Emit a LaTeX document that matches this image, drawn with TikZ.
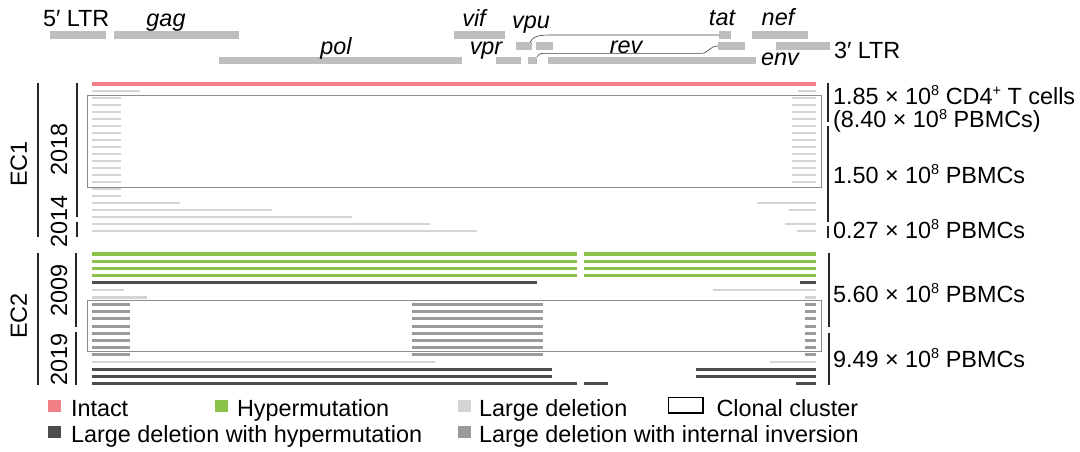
\documentclass[tikz,border=0pt]{standalone}
\usepackage{fontspec}
\setmainfont{Liberation Sans}
\definecolor{cIntact}{HTML}{F08085}
\definecolor{cHyper}{HTML}{8BC34A}
\definecolor{cLight}{HTML}{D4D4D4}
\definecolor{cMed}{HTML}{9A9A9A}
\definecolor{cDark}{HTML}{4D4D4D}
\definecolor{cGene}{HTML}{BEBEBE}
\definecolor{cBox}{HTML}{8C8C8C}
\newcommand\mysup[1]{\raisebox{8.5pt}{\fontsize{14.5}{14.5}\selectfont #1}}
\begin{document}
\begin{tikzpicture}[x=1pt,y=-1pt,
  lab/.style={font=\fontsize{23.4}{28}\selectfont, inner sep=0pt, outer sep=0pt},
  glab/.style={font=\fontsize{23.4}{28}\selectfont\itshape, inner sep=0pt, outer sep=0pt, anchor=base},
  gene/.style={rectangle, fill=cGene, draw=none, inner sep=0pt, outer sep=0pt, minimum height=7.5pt, anchor=west},
  conn/.style={draw=black!75, line width=0.6pt},
  barI/.style={draw=cIntact, line width=3.4pt},
  barH/.style={draw=cHyper, line width=3.4pt},
  barL/.style={draw=cLight, line width=2.6pt},
  barD/.style={draw=cDark, line width=3.0pt},
  barM/.style={draw=cMed, line width=3.0pt},
  clonal/.style={draw=cBox, line width=1pt},
  bracket/.style={draw=black!85, line width=1.5pt}]
\useasboundingbox (0,0) rectangle (1080,451);

% ---------- genome map ----------
\newcommand\genebar[4]{\node[gene, minimum width={(#3-#2)*1pt}] (#1) at (#2,#4) {};}
\genebar{ltrA}{50}{106}{35}
\genebar{gag}{113.5}{239}{35}
\genebar{vif}{454}{505}{35}
\genebar{tatB}{719}{731}{35}
\genebar{nef}{752}{808}{35}
\genebar{tatA}{516}{532}{46}
\genebar{vpu}{536}{553}{46}
\genebar{revB}{718}{745}{46}
\genebar{ltrB}{776}{830}{46}
\genebar{pol}{219}{462}{60.5}
\genebar{vpr}{496}{521}{60.5}
\genebar{revA}{528}{537}{60.5}
\genebar{env}{548}{756}{60.5}

\coordinate (tatbend) at (550,35);
\coordinate (revbend1) at (546,53.3);
\coordinate (revbend2) at (701,53.3);
\draw[conn] ([xshift=-2pt]tatA.north east) .. controls (533,36.5) and (538,35) .. (tatbend) -- (tatB.west);
\draw[conn] (revA.north east) .. controls (538,54) and (540,53.3) .. (revbend1) -- (revbend2) .. controls (709,53.3) and (709,46) .. (revB.west);

\node[lab, anchor=base west] (tLtrA) at (43,26.5) {5′ LTR};
\node[glab] (tGag) at (166,26.5) {gag};
\node[glab] (tVif) at (474,26.5) {vif};
\node[glab] (tVpu) at (531,28) {vpu};
\node[glab] (tTat) at (722,25.5) {tat};
\node[glab] (tNef) at (778,25.5) {nef};
\node[glab] (tPol) at (336,54) {pol};
\node[glab] (tVpr) at (486,54) {vpr};
\node[glab] (tRev) at (626,53) {rev};
\node[glab] (tEnv) at (780,65) {env};
\node[lab, anchor=base west] (tLtrB) at (834,58) {3′ LTR};

% ---------- EC1 ----------
\draw[barI] (92,84) -- (815.5,84);
\draw[barL] (92,91) -- (140,91);
\draw[barL] (798,91) -- (815.5,91);
\foreach \k in {2,...,14} {
  \pgfmathsetmacro\yy{84+7*\k}
  \draw[barL] (92,\yy) -- (121,\yy);
  \draw[barL] (792,\yy) -- (815.5,\yy);
}
\draw[barL] (92,189) -- (121,189);
\draw[barL] (92,196) -- (121,196);
\draw[barL] (92,203) -- (180,203);
\draw[barL] (757,203) -- (815.5,203);
\draw[barL] (92,210) -- (272,210);
\draw[barL] (789,210) -- (815.5,210);
\draw[barL] (92,217) -- (352,217);
\draw[barL] (92,224) -- (430,224);
\draw[barL] (785,224) -- (815.5,224);
\draw[barL] (92,231) -- (477,231);
\draw[barL] (797,231) -- (815.5,231);
\draw[clonal] (87,95.5) rectangle (821,187);

% ---------- EC2 ----------
\foreach \k in {0,...,3} {
  \pgfmathsetmacro\yy{254+7.2*\k}
  \draw[barH] (92,\yy) -- (577,\yy);
  \draw[barH] (584,\yy) -- (815.5,\yy);
}
\draw[barD] (92,282.8) -- (537,282.8);
\draw[barD] (800,282.8) -- (815.5,282.8);
\draw[barL] (92,290) -- (124,290);
\draw[barL] (713,290) -- (815.5,290);
\draw[barL] (92,297.2) -- (147,297.2);
\draw[barL] (805,297.2) -- (815.5,297.2);
\foreach \k in {7,...,14} {
  \pgfmathsetmacro\yy{254+7.2*\k}
  \draw[barM] (92,\yy) -- (130,\yy);
  \draw[barM] (412,\yy) -- (543,\yy);
  \draw[barM] (805,\yy) -- (815.5,\yy);
}
\draw[barL] (92,362) -- (435,362);
\draw[barL] (770,362) -- (815.5,362);
\foreach \yy in {369.2,376.4} {
  \draw[barD] (92,\yy) -- (552,\yy);
  \draw[barD] (696,\yy) -- (815.5,\yy);
}
\draw[barD] (92,383.6) -- (577,383.6);
\draw[barD] (584,383.6) -- (608,383.6);
\draw[barD] (796,383.6) -- (815.5,383.6);
\draw[clonal] (87,300.7) rectangle (821,351);

% ---------- left labels ----------
\draw[bracket] (38,83) -- (38,237);
\draw[bracket] (77,83) -- (77,217);
\draw[bracket] (77,222) -- (77,237);
\draw[bracket] (38,253) -- (38,385);
\draw[bracket] (76,253) -- (76,327);
\draw[bracket] (76,332) -- (76,385);
\node[lab, rotate=90, anchor=base] (tEC1) at (27,164) {EC1};
\node[lab, rotate=90, anchor=base] (t2018) at (67,149) {2018};
\node[lab, rotate=90, anchor=base] (t2014) at (67,221) {2014};
\node[lab, rotate=90, anchor=base] (tEC2) at (27,316) {EC2};
\node[lab, rotate=90, anchor=base] (t2009) at (67,290) {2009};
\node[lab, rotate=90, anchor=base] (t2019) at (67,359) {2019};

% ---------- right labels ----------
\draw[bracket] (828,83) -- (828,122);
\draw[bracket] (828,126) -- (828,222);
\draw[bracket] (828,226) -- (828,238);
\draw[bracket] (829,253) -- (829,327);
\draw[bracket] (829,333) -- (829,385);
\node[lab, anchor=base west] (r1) at (833,104) {1.85 × 10\mysup{8} CD4\mysup{+} T cells};
\node[lab, anchor=base west] (r2) at (833,127.5) {(8.40 × 10\mysup{8} PBMCs)};
\node[lab, anchor=base west] (r3) at (833,183) {1.50 × 10\mysup{8} PBMCs};
\node[lab, anchor=base west] (r4) at (833,238) {0.27 × 10\mysup{8} PBMCs};
\node[lab, anchor=base west] (r5) at (833,302) {5.60 × 10\mysup{8} PBMCs};
\node[lab, anchor=base west] (r6) at (833,367) {9.49 × 10\mysup{8} PBMCs};

% ---------- legend ----------
\fill[cIntact] (48,400) rectangle (61,412);
\node[lab, anchor=base west] (lI) at (71,416) {Intact};
\fill[cHyper] (215,400) rectangle (228,412);
\node[lab, anchor=base west] (lH) at (237,416) {Hypermutation};
\fill[cLight] (458,400) rectangle (471,412);
\node[lab, anchor=base west] (lL) at (479,416) {Large deletion};
\draw[black, line width=1.5pt] (668.5,397.5) rectangle (703,413);
\node[lab, anchor=base west] (lC) at (716.5,416) {Clonal cluster};
\fill[cDark] (48,426) rectangle (61,438);
\node[lab, anchor=base west] (lD) at (71,442) {Large deletion with hypermutation};
\fill[cMed] (458,426) rectangle (471,438);
\node[lab, anchor=base west] (lM) at (479,442) {Large deletion with internal inversion};
\end{tikzpicture}
\end{document}
